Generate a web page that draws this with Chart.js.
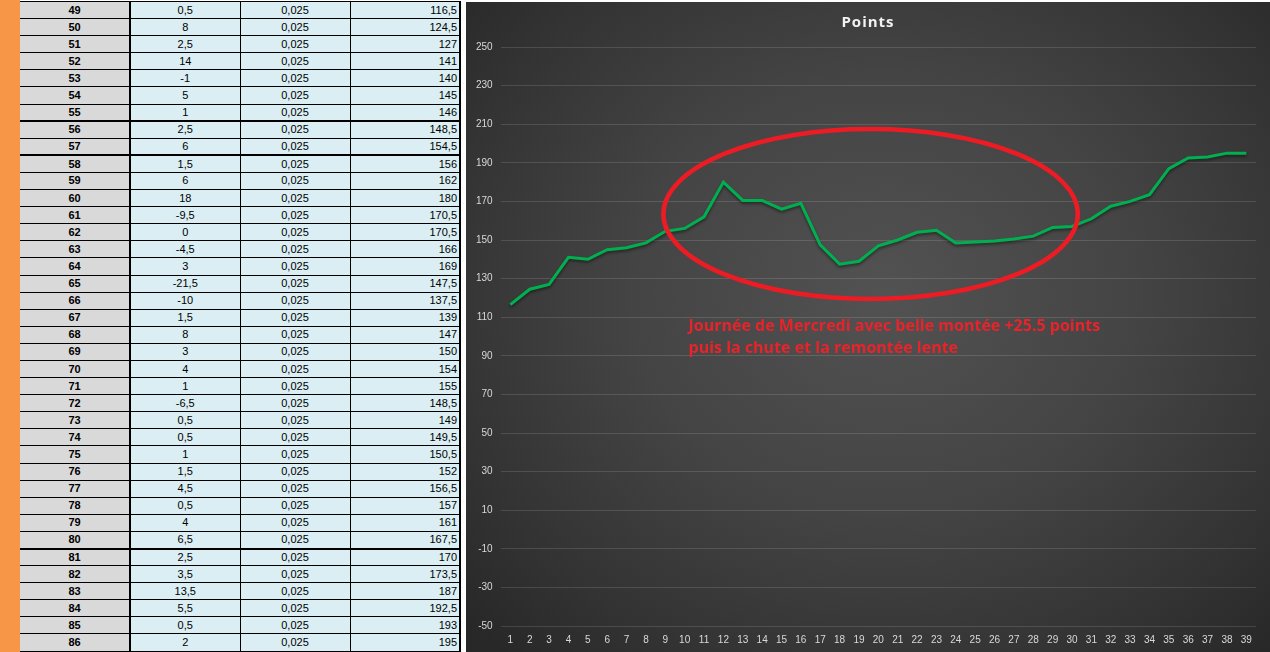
<!DOCTYPE html>
<html>
<head>
<meta charset="utf-8">
<script src="https://cdn.jsdelivr.net/npm/chart.js@4.4.0/dist/chart.umd.min.js"></script>
<style>
  body { margin: 0; width: 1270px; height: 652px; overflow: hidden; background: #fff; font-family: "Liberation Sans", Arial, sans-serif; position: relative; }
  #strip { position: absolute; left: 0; top: 0; width: 20px; height: 652px; background: #F79646; }
  #sheet { position: absolute; left: 20px; top: 1px; border-collapse: collapse; table-layout: fixed; font-size: 11px; color: #000; }
  #sheet tr { height: 17.1px; }
  #sheet td { padding: 0 2px; border: 1px solid #000; background: #DAEEF3; text-align: center; line-height: 1; white-space: nowrap; }
  #sheet td.num { background: #D9D9D9; font-weight: bold; border-right: 2px solid #000; border-left: none; }
  #sheet td.pts { text-align: right; border-right: 2px solid #000; }
  #sheet tr.thick td { border-bottom: 2px solid #000; }
  #chartBox { position: absolute; left: 466px; top: 2px; width: 804px; height: 650px;
    background: radial-gradient(ellipse 70% 75% at 52% 45%, #525252 0%, #444444 45%, #333333 80%, #282828 100%); }
  #chartBox canvas { display: block; }
</style>
</head>
<body>
<div id="strip"></div>
<table id="sheet">
  <colgroup><col style="width:110px"><col style="width:110px"><col style="width:110px"><col style="width:110px"></colgroup>
  <tbody id="sheetBody"></tbody>
</table>
<div id="chartBox"><canvas id="chartPoints" width="804" height="650"></canvas></div>
<script>
// Spreadsheet rows (row number, change, factor, running points)
const rowNumbers = [49, 50, 51, 52, 53, 54, 55, 56, 57, 58, 59, 60, 61, 62, 63, 64, 65, 66, 67,
  68, 69, 70, 71, 72, 73, 74, 75, 76, 77, 78, 79, 80, 81, 82, 83, 84, 85, 86];
const changes = [0.5, 8, 2.5, 14, -1, 5, 1, 2.5, 6, 1.5, 6, 18, -9.5, 0, -4.5, 3, -21.5, -10, 1.5,
  8, 3, 4, 1, -6.5, 0.5, 0.5, 1, 1.5, 4.5, 0.5, 4, 6.5, 2.5, 3.5, 13.5, 5.5, 0.5, 2];
const factors = [0.025, 0.025, 0.025, 0.025, 0.025, 0.025, 0.025, 0.025, 0.025, 0.025, 0.025, 0.025, 0.025,
  0.025, 0.025, 0.025, 0.025, 0.025, 0.025, 0.025, 0.025, 0.025, 0.025, 0.025, 0.025, 0.025, 0.025, 0.025,
  0.025, 0.025, 0.025, 0.025, 0.025, 0.025, 0.025, 0.025, 0.025, 0.025];

// Chart series (39 points, last one is the hidden row below 86)
const xLabels = ["1", "2", "3", "4", "5", "6", "7", "8", "9", "10", "11", "12", "13", "14", "15", "16", "17",
  "18", "19", "20", "21", "22", "23", "24", "25", "26", "27", "28", "29", "30", "31", "32", "33", "34", "35",
  "36", "37", "38", "39"];
const points = [116.5, 124.5, 127, 141, 140, 145, 146, 148.5, 154.5, 156, 162, 180, 170.5, 170.5, 166, 169,
  147.5, 137.5, 139, 147, 150, 154, 155, 148.5, 149, 149.5, 150.5, 152, 156.5, 157, 161, 167.5, 170, 173.5,
  187, 192.5, 193, 195, 195];
const yTicks = [250, 230, 210, 190, 170, 150, 130, 110, 90, 70, 50, 30, 10, -10, -30, -50];

const chartTitle = "Points";
const noteLines = ["Journée de Mercredi avec belle montée +25.5 points", "puis la chute et la remontée lente"];

// Build the spreadsheet
const fr = v => String(v).replace(".", ",");
const thickAfter = [55, 57, 80];
const body = document.getElementById("sheetBody");
rowNumbers.forEach((n, i) => {
    const tr = document.createElement("tr");
    if (thickAfter.includes(n)) tr.className = "thick";
    tr.innerHTML = `<td class="num">${n}</td><td>${fr(changes[i])}</td><td>${fr(factors[i])}</td><td class="pts">${fr(points[i])}</td>`;
    body.appendChild(tr);
});

// Title (letter spaced), red ellipse and comment placed in data units
const notePlugin = {
    id: "note",
    beforeDatasetDraw(chart) {
        const ctx = chart.ctx;
        ctx.save();
        ctx.shadowColor = "rgba(0,0,0,0.45)";
        ctx.shadowBlur = 3;
        ctx.shadowOffsetY = 2;
    },
    afterDatasetDraw(chart) {
        chart.ctx.restore();
    },
    afterDatasetsDraw(chart) {
        const { ctx, scales: { x, y } } = chart;
        const left = x.getPixelForValue(7.9), right = x.getPixelForValue(29.3);
        const top = y.getPixelForValue(207.5), bottom = y.getPixelForValue(119.4);
        ctx.save();
        ctx.beginPath();
        ctx.ellipse((left + right) / 2, (top + bottom) / 2, (right - left) / 2, (bottom - top) / 2, 0, 0, Math.PI * 2);
        ctx.strokeStyle = "#ED1C24";
        ctx.lineWidth = 4.5;
        ctx.stroke();

        ctx.fillStyle = "#E8232A";
        ctx.font = "bold 16px 'Open Sans'";
        ctx.textBaseline = "middle";
        ctx.textAlign = "left";
        const tx = x.getPixelForValue(9.2), ty = y.getPixelForValue(105);
        noteLines.forEach((line, i) => ctx.fillText(line, tx, ty + i * 22));

        ctx.fillStyle = "#F2F2F2";
        ctx.font = "bold 15px 'Open Sans'";
        ctx.textAlign = "center";
        ctx.letterSpacing = "1px";
        ctx.fillText(chartTitle, chart.width / 2, 21);
        ctx.restore();
    }
};

const ctx = document.getElementById("chartPoints").getContext("2d");
new Chart(ctx, {
    type: "line",
    data: {
        labels: xLabels,
        datasets: [
            {
                label: "Points",
                data: points,
                borderColor: "#00B050",
                borderWidth: 3,
                pointRadius: 0,
                tension: 0,
                fill: false
            }
        ]
    },
    options: {
        responsive: false,
        animation: false,
        layout: {
            padding: { left: 2, right: 14, top: 45, bottom: -2 }
        },
        plugins: {
            legend: { display: false },
            tooltip: { enabled: false },
            title: { display: false }
        },
        scales: {
            x: {
                offset: true,
                grid: { display: false, drawTicks: false },
                border: { display: false },
                ticks: {
                    color: "#D9D9D9",
                    font: { family: "'Liberation Sans'", size: 10 },
                    padding: 8,
                    maxRotation: 0,
                    autoSkip: false
                }
            },
            y: {
                min: -50,
                max: 250,
                afterBuildTicks: axis => { axis.ticks = yTicks.map(v => ({ value: v })); },
                grid: { color: "rgba(255,255,255,0.13)", drawTicks: false },
                border: { display: false },
                ticks: {
                    color: "#D9D9D9",
                    font: { family: "'Liberation Sans'", size: 10 },
                    padding: 8
                }
            }
        }
    },
    plugins: [notePlugin]
});
</script>
</body>
</html>
